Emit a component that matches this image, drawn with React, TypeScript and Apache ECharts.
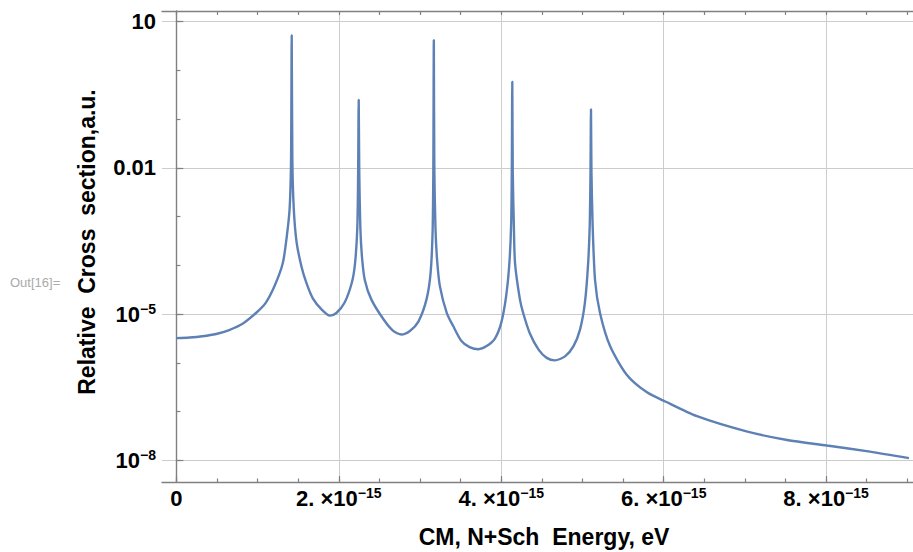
import React, { useEffect, useRef } from 'react';
import * as echarts from 'echarts';

// Energy in units of 1e-15 eV
const energyE15 = [
  0, 0.16, 0.32, 0.49, 0.65, 0.82, 0.98, 1.10, 1.21, 1.31,
  1.36, 1.395, 1.412, 1.42, 1.428, 1.445, 1.48, 1.54, 1.60, 1.68,
  1.79, 1.89, 1.97, 2.07, 2.16, 2.20, 2.228, 2.238, 2.245, 2.252,
  2.265, 2.285, 2.32, 2.40, 2.55, 2.67, 2.77, 2.875, 2.98, 3.08,
  3.13, 3.155, 3.164, 3.17, 3.176, 3.19, 3.21, 3.245, 3.33, 3.41,
  3.51, 3.61, 3.72, 3.82, 3.92, 4.00, 4.06, 4.10, 4.122, 4.13,
  4.136, 4.142, 4.155, 4.17, 4.23, 4.27, 4.35, 4.46, 4.56, 4.66,
  4.785, 4.89, 4.97, 5.03, 5.07, 5.09, 5.099, 5.105, 5.111, 5.125,
  5.155, 5.216, 5.34, 5.545, 5.79, 6.02, 6.41, 7.02, 7.52, 8.01,
  8.54, 9.02,
];

const crossSection = [
  3.2e-6, 3.3e-6, 3.5e-6, 3.9e-6, 4.7e-6, 6.4e-6, 1.05e-5, 1.7e-5, 3.8e-5, 1.1e-4,
  4.0e-4, 1.5e-3, 1.5e-2, 5.3, 1.5e-2, 1.5e-3, 3.0e-4, 9.5e-5, 4.4e-5, 2.1e-5,
  1.23e-5, 9.3e-6, 1.05e-5, 1.7e-5, 4.4e-5, 1.1e-4, 6e-4, 8e-3, 0.25, 8e-3,
  6e-4, 1.5e-4, 5e-5, 2e-5, 7.8e-6, 4.5e-6, 3.8e-6, 4.5e-6, 7e-6, 2e-5,
  6.9e-5, 5e-4, 1e-2, 4.2, 1e-2, 6e-4, 1.3e-4, 3.7e-5, 1.05e-5, 5.6e-6,
  2.8e-6, 2.1e-6, 1.9e-6, 2.2e-6, 3.1e-6, 6.6e-6, 2.3e-5, 1.1e-4, 7e-4, 8e-3,
  0.59, 8e-3, 7e-4, 1.1e-4, 2e-5, 1.05e-5, 4.1e-6, 1.86e-6, 1.26e-6, 1.12e-6,
  1.35e-6, 2.2e-6, 4.8e-6, 1.7e-5, 1.1e-4, 7e-4, 8e-3, 0.16, 8e-3, 7e-4,
  5e-5, 1.05e-5, 2.2e-6, 5.7e-7, 2.5e-7, 1.6e-7, 8e-8, 3.9e-8, 2.6e-8, 2.0e-8,
  1.5e-8, 1.1e-8,
];

const xLabelValues = [0, 2, 4, 6, 8];
const xLabelTexts = ['{b|0}', '{b|2. ×10}{s|−15}', '{b|4. ×10}{s|−15}', '{b|6. ×10}{s|−15}', '{b|8. ×10}{s|−15}'];
const xMinorTickValues = [0, 0.5, 1, 1.5, 2, 2.5, 3, 3.5, 4, 4.5, 5, 5.5, 6, 6.5, 7, 7.5, 8, 8.5, 9];
const yLabelValues = [1e-8, 1e-5, 0.01, 10];
const yLabelTexts = ['{b|10}{s|−8}', '{b|10}{s|−5}', '{b|0.01}', '{b|10}'];
const yDecadeTickValues = [1e-8, 1e-7, 1e-6, 1e-5, 1e-4, 1e-3, 1e-2, 1e-1, 1, 10];

const xTitle = 'CM, N+Sch  Energy, eV';
const yTitle = 'Relative  Cross  section,a.u.';
const outLabel = 'Out[16]=';

const X_MIN = -0.177;
const X_MAX = 9.07;
const Y_MIN = 3.57e-9;
const Y_MAX = 16.6;

const FONT = "'Liberation Sans', Arial, sans-serif";
const AXIS_COLOR = '#808080';
const GRID_COLOR = '#cccccc';

const rich = {
  b: { fontFamily: FONT, fontSize: 22, fontWeight: 'bold', color: '#000', lineHeight: 24 },
  s: { fontFamily: FONT, fontSize: 14, fontWeight: 'bold', color: '#000', lineHeight: 14, verticalAlign: 'top' },
};

function nearestIndex(values: number[], v: number, log: boolean) {
  let best = 0;
  let bestD = Infinity;
  values.forEach((u, i) => {
    const d = log ? Math.abs(Math.log10(u) - Math.log10(v)) : Math.abs(u - v);
    if (d < bestD) { bestD = d; best = i; }
  });
  return best;
}

export default function App() {
  const ref = useRef<HTMLDivElement>(null);
  useEffect(() => {
    if (!ref.current) return;
    const chart = echarts.init(ref.current, undefined, { renderer: 'svg' });
    const data = energyE15.map((x, i) => [x, crossSection[i]]);
    chart.setOption({
      animation: false,
      backgroundColor: '#fff',
      grid: { left: 162, top: 11, right: 0, bottom: 70, containLabel: false },
      xAxis: [
        {
          type: 'value', position: 'bottom', min: X_MIN, max: X_MAX,
          axisLine: { show: true, lineStyle: { color: AXIS_COLOR, width: 1.4 } },
          axisTick: { show: true, inside: true, length: 6, customValues: xLabelValues, lineStyle: { color: AXIS_COLOR, width: 1.2 } },
          axisLabel: {
            show: true, margin: 4, customValues: xLabelValues, rich,
            formatter: (v: number) => xLabelTexts[nearestIndex(xLabelValues, v, false)],
          },
          splitLine: { show: true, showMinLine: false, lineStyle: { color: GRID_COLOR, width: 1 } },
        },
        {
          type: 'value', position: 'bottom', min: X_MIN, max: X_MAX,
          axisLine: { show: false },
          axisTick: { show: true, inside: true, length: 3.5, customValues: xMinorTickValues, lineStyle: { color: AXIS_COLOR, width: 1.2 } },
          axisLabel: { show: false },
          splitLine: { show: false },
        },
        {
          type: 'value', position: 'top', min: X_MIN, max: X_MAX,
          axisLine: { show: true, lineStyle: { color: AXIS_COLOR, width: 1.4 } },
          axisTick: { show: true, inside: true, length: 4, customValues: xMinorTickValues, lineStyle: { color: AXIS_COLOR, width: 1.2 } },
          axisLabel: { show: false },
          splitLine: { show: false },
        },
      ],
      yAxis: [
        {
          type: 'log', logBase: 10, position: 'left', min: Y_MIN, max: Y_MAX,
          axisLine: { show: true, lineStyle: { color: AXIS_COLOR, width: 1.4 } },
          axisTick: { show: true, inside: true, length: 7, customValues: yLabelValues, lineStyle: { color: AXIS_COLOR, width: 1.2 } },
          axisLabel: {
            show: true, margin: 6, customValues: yLabelValues, rich,
            formatter: (v: number) => yLabelTexts[nearestIndex(yLabelValues, v, true)],
          },
          splitLine: { show: true, lineStyle: { color: GRID_COLOR, width: 1 } },
        },
        {
          type: 'log', logBase: 10, position: 'left', min: Y_MIN, max: Y_MAX,
          axisLine: { show: false },
          axisTick: { show: true, inside: true, length: 4, customValues: yDecadeTickValues, lineStyle: { color: AXIS_COLOR, width: 1.2 } },
          axisLabel: { show: false },
          splitLine: { show: false },
        },
      ],
      series: [
        {
          type: 'line',
          xAxisIndex: 0,
          yAxisIndex: 0,
          data,
          showSymbol: false,
          symbol: 'none',
          smooth: 0.25,
          lineStyle: { color: '#5E81B5', width: 2.4 },
          clip: true,
        },
      ],
      graphic: [
        {
          type: 'text', x: 544, y: 537,
          style: { text: xTitle, font: `bold 23px ${FONT}`, fill: '#000', align: 'center', verticalAlign: 'middle' },
        },
        {
          type: 'text', x: 87, y: 242, rotation: Math.PI / 2,
          style: { text: yTitle, font: `bold 23px ${FONT}`, fill: '#000', align: 'center', verticalAlign: 'middle' },
        },
        {
          type: 'text', x: 10, y: 282,
          style: { text: outLabel, font: `13px ${FONT}`, fill: '#aaaaaa', align: 'left', verticalAlign: 'middle' },
        },
      ],
    });
    return () => chart.dispose();
  }, []);
  return <div ref={ref} style={{ position: 'fixed', left: 0, top: 0, width: 913, height: 552 }} />;
}
